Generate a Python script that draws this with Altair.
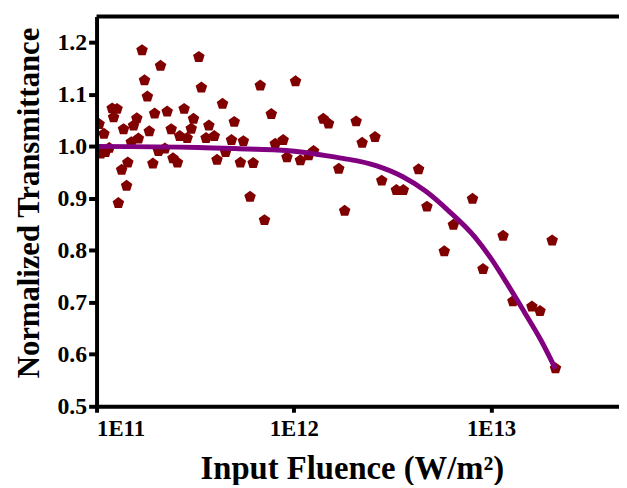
import altair as alt
import pandas as pd

# Measured data points (input fluence in W/m^2, normalized transmittance)
fluence = [
    1.70e11, 3.30e11, 2.11e11, 1.75e11, 3.40e11, 6.76e11, 1.02e12, 1.81e11, 4.35e11, 1.20e11,
    1.27e11, 1.22e11, 1.97e11, 2.28e11, 2.78e11, 7.69e11, 1.03e11, 1.60e11, 1.54e11, 3.10e11,
    1.37e11, 1.09e11, 1.85e11, 2.39e11, 3.02e11, 3.71e11, 4.99e11, 2.64e11, 2.88e11, 3.59e11,
    3.95e11, 1.63e11, 1.50e11, 4.83e11, 5.55e11, 8.83e11, 8.05e11, 1.16e11, 1.05e11, 1.11e11,
    2.22e11, 2.06e11, 4.51e11, 2.44e11, 2.57e11, 1.44e11, 1.93e11, 4.08e11, 5.36e11, 6.22e11,
    9.23e11, 1.08e12, 1.34e11, 1.42e11, 1.29e11, 6.00e11, 7.10e11, 1.41e12, 1.50e12, 2.07e12,
    2.22e12, 2.58e12, 1.26e12, 1.19e12, 1.69e12, 4.29e12, 2.79e12, 3.31e12, 3.59e12, 4.73e12,
    8.05e12, 1.81e12, 6.44e12, 1.15e13, 2.04e13, 5.79e12, 9.10e12, 1.29e13, 1.61e13, 1.77e13,
    2.12e13, 9.4e10,
]
transmittance = [
    1.185, 1.172, 1.155, 1.127, 1.113, 1.117, 1.125, 1.096, 1.082, 1.073,
    1.072, 1.056, 1.063, 1.067, 1.072, 1.062, 1.043, 1.054, 1.040, 1.053,
    1.033, 1.024, 1.029, 1.033, 1.034, 1.040, 1.047, 1.020, 1.016, 1.016,
    1.020, 1.015, 1.008, 1.012, 1.010, 1.012, 1.005, 0.997, 0.986, 0.989,
    0.996, 0.991, 0.989, 0.977, 0.969, 0.969, 0.967, 0.974, 0.969, 0.968,
    0.979, 0.973, 0.955, 0.924, 0.891, 0.903, 0.858, 1.053, 1.044, 1.048,
    1.007, 1.018, 0.991, 0.983, 0.957, 0.956, 0.934, 0.916, 0.916, 0.884,
    0.899, 0.876, 0.849, 0.828, 0.819, 0.798, 0.764, 0.702, 0.692, 0.683,
    0.573, 0.932,
]

# Fitted curve
fit_fluence = [
    1.0e11, 3.27e11, 5.81e11, 8.22e11, 1.16e12, 1.30e12, 1.77e12, 2.61e12, 3.55e12,
    4.65e12, 6.05e12, 8.26e12, 1.00e13, 1.21e13, 1.47e13, 1.79e13, 2.12e13,
]
fit_transmittance = [
    1.000, 0.998, 0.995, 0.993, 0.988, 0.985, 0.977, 0.963, 0.942,
    0.914, 0.877, 0.826, 0.784, 0.735, 0.682, 0.627, 0.572,
]

x_ticks = [1e11, 1e12, 1e13]
y_ticks = [0.5, 0.6, 0.7, 0.8, 0.9, 1.0, 1.1, 1.2]

pts = pd.DataFrame({"F": fluence, "T": transmittance})
fit = pd.DataFrame({"F": fit_fluence, "T": fit_transmittance})

FONT = "Liberation Serif"

x_scale = alt.Scale(type="log", domain=[1e11, 4.45e13], nice=False)
y_scale = alt.Scale(domain=[0.5, 1.25], nice=False, zero=False)

x_axis = alt.Axis(
    values=x_ticks,
    labelExpr="'1E' + round(log(datum.value) / LN10)",
    title="Input Fluence (W/m²)",
    titleFont=FONT, titleFontSize=33, titleFontWeight="bold", titleColor="black",
    titleY=47, titleX=258,
    labelFont=FONT, labelFontSize=23, labelFontWeight="bold", labelColor="black",
    labelPadding=6, tickSize=6, tickWidth=4, tickColor="black",
    domainColor="black", domainWidth=4, grid=False, zindex=1,
)
y_axis = alt.Axis(
    values=y_ticks, format=".1f",
    title="Normalized Transmittance",
    titleFont=FONT, titleFontSize=31, titleFontWeight="bold", titleColor="black",
    titleX=-52, titleY=188,
    labelFont=FONT, labelFontSize=24, labelFontWeight="bold", labelColor="black",
    labelPadding=2, tickSize=8, tickWidth=4, tickColor="black",
    domainColor="black", domainWidth=4, grid=False, zindex=1,
)

pentagon = "M0,-1 L0.951,-0.309 L0.588,0.809 L-0.588,0.809 L-0.951,-0.309 Z"

points = alt.Chart(pts).mark_point(
    shape=pentagon, filled=True, color="#800000", size=150, opacity=1, clip=True
).encode(
    x=alt.X("F:Q", scale=x_scale, axis=x_axis),
    y=alt.Y("T:Q", scale=y_scale, axis=y_axis),
)

line = alt.Chart(fit).mark_line(
    color="#800080", strokeWidth=5, interpolate="monotone", clip=True
).encode(
    x=alt.X("F:Q", scale=x_scale),
    y=alt.Y("T:Q", scale=y_scale),
)

top_frame = alt.Chart(pd.DataFrame({"T": [1.25]})).mark_rule(
    color="black", strokeWidth=4
).encode(y=alt.Y("T:Q", scale=y_scale))

chart = alt.layer(points, line, top_frame).properties(
    width=528, height=394,
    autosize=alt.AutoSizeParams(type="none"),
    padding={"left": 89.5, "top": 6, "right": 0, "bottom": 77},
    background="white",
).configure_view(stroke=None)

chart.save("out.html", embed_options={"renderer": "svg", "actions": False})
